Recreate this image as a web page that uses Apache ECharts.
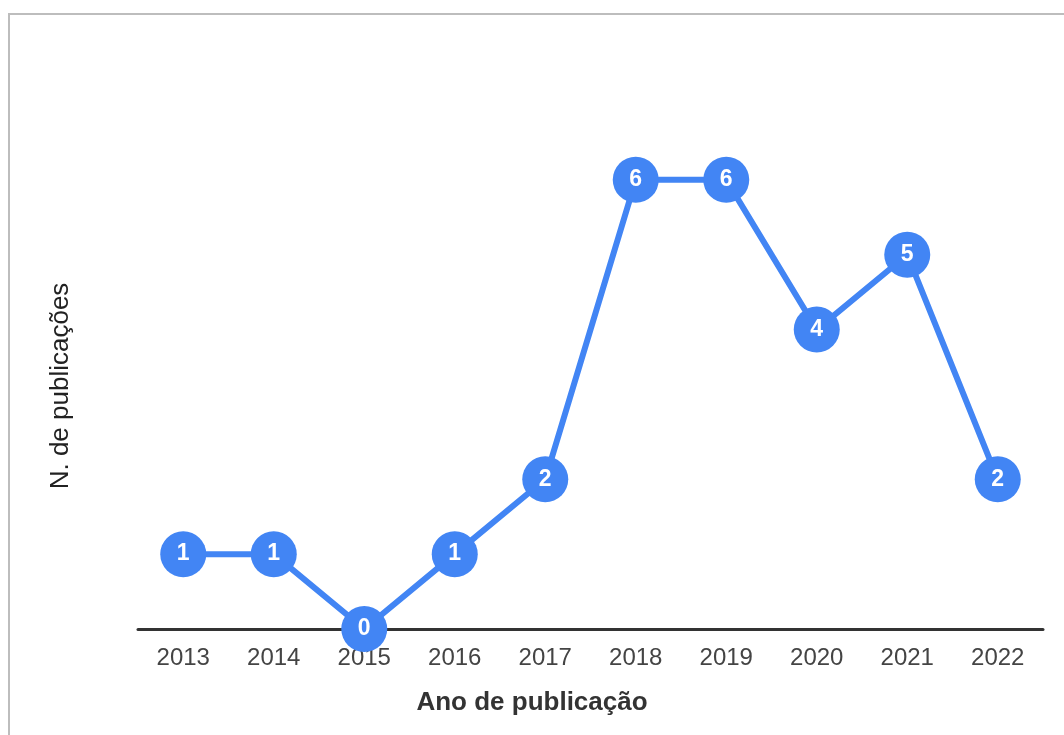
<!DOCTYPE html>
<html>
<head>
<meta charset="utf-8">
<script src="https://cdn.jsdelivr.net/npm/echarts@6/dist/echarts.min.js"></script>
<style>
html,body{margin:0;padding:0;background:#fff;overflow:hidden;}
#frame{position:absolute;left:8px;top:13px;width:1100px;height:800px;border-left:2px solid #bdbdbd;border-top:2px solid #bdbdbd;}
#chart{position:absolute;left:0;top:0;width:1064px;height:735px;}
</style>
</head>
<body>
<div id="frame"></div>
<div id="chart"></div>
<script>
const years = ['2013','2014','2015','2016','2017','2018','2019','2020','2021','2022'];
const publications = [1,1,0,1,2,6,6,4,5,2];
const xTitle = 'Ano de publicação';
const yTitle = 'N. de publicações';

const chart = echarts.init(document.getElementById('chart'), null, {renderer:'canvas'});
chart.setOption({
  animation:false,
  backgroundColor:'transparent',
  grid:{left:138, right:21, top:105, bottom:106, containLabel:false},
  xAxis:{
    type:'category', data:years, boundaryGap:true,
    axisLine:{lineStyle:{color:'#333',width:3}},
    axisTick:{show:false},
    axisLabel:{color:'#444', fontSize:24, fontFamily:'Liberation Sans, Arial, sans-serif', margin:17}
  },
  yAxis:{
    type:'value', min:0, max:7, interval:1,
    axisLine:{show:false}, axisTick:{show:false}, axisLabel:{show:false},
    splitLine:{show:false}
  },
  series:[{
    type:'line', data:publications,
    symbol:'circle', symbolSize:46,
    lineStyle:{color:'#4285F4', width:6},
    itemStyle:{color:'#4285F4'},
    label:{show:true, position:'inside', color:'#fff', fontSize:23, fontWeight:'bold', fontFamily:'Liberation Sans, Arial, sans-serif'},
    z:3
  }],
  graphic:[
    {type:'text', x:532, y:703, style:{text:xTitle, fill:'#333', font:'bold 26px "Liberation Sans", Arial, sans-serif', align:'center', verticalAlign:'middle'}},
    {type:'text', x:61, y:386, rotation:Math.PI/2, style:{text:yTitle, fill:'#222', font:'26px "Liberation Sans", Arial, sans-serif', align:'center', verticalAlign:'middle'}}
  ]
});
</script>
</body>
</html>
